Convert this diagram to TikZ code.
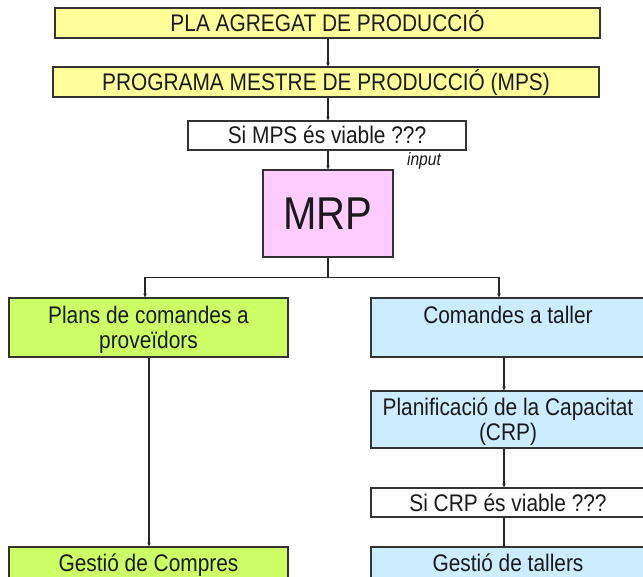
\documentclass[tikz,border=0pt]{standalone}
\usepackage{fontspec}
\setmainfont{Liberation Sans}[FakeStretch=0.87]
\usetikzlibrary{arrows.meta}
\definecolor{yel}{HTML}{FFFF99}
\definecolor{pnk}{HTML}{FFCCFF}
\definecolor{grn}{HTML}{CCFF66}
\definecolor{blu}{HTML}{CCECFF}
\definecolor{ink}{HTML}{1A1A1A}
\begin{document}
\begin{tikzpicture}[x=1pt,y=-1pt,
  box/.style={draw=black!80, line width=1.1pt, inner sep=0pt, align=center,
    font=\fontsize{24}{25}\selectfont, text=ink},
  one/.style={box, text height=17pt, text depth=0pt},
  two/.style={box, text height=42pt, text depth=0pt},
  conn/.style={line width=1.3pt, draw=black!85},
  arr/.style={conn, -{Stealth[length=4pt,width=3.5pt]}},
]
\useasboundingbox (0,0) rectangle (643,577);
\begin{scope}
\clip (0,0) rectangle (643,577);
\node[one, fill=yel, minimum width=545pt, minimum height=30pt] (pla) at (327.5,23) {PLA AGREGAT DE PRODUCCIÓ};
\node[one, fill=yel, minimum width=546pt, minimum height=30pt] (mps) at (326,82) {PROGRAMA MESTRE DE PRODUCCIÓ (MPS)};
\node[one, fill=white, minimum width=278pt, minimum height=29pt] (simps) at (327,135.5) {Si MPS és viable ???};
\node[box, fill=pnk, minimum width=130pt, minimum height=87pt, font=\fontsize{46}{46}\selectfont, text height=33pt, text depth=0pt] (mrp) at (328,213.5) {MRP};
\node[font=\fontsize{18}{20}\selectfont\itshape, text=ink, inner sep=0pt] (inp) at (424,161) {input};

\node[two, fill=grn, minimum width=279pt, minimum height=59pt] (prov) at (148.5,327.5) {Plans de comandes a\\proveïdors};
\node[two, fill=blu, minimum width=274pt, minimum height=59pt] (tall) at (508,327.5) {Comandes a taller\\\strut};
\node[two, fill=blu, minimum width=274pt, minimum height=57pt] (crp) at (508,419.5) {Planificació de la Capacitat\\(CRP)};
\node[one, fill=white, minimum width=274pt, minimum height=29pt] (sicrp) at (508,502.5) {Si CRP és viable ???};
\node[one, fill=grn, minimum width=279pt, minimum height=32pt] (comp) at (148.5,563) {Gestió de Compres};
\node[one, fill=blu, minimum width=274pt, minimum height=32pt] (gtall) at (508,563) {Gestió de tallers};

\draw[arr] ([xshift=0.5pt]pla.south) -- ([xshift=0.5pt]pla.south |- mps.north);
\draw[arr] ([xshift=2pt]mps.south) -- ([xshift=2pt]mps.south |- simps.north);
\draw[arr] ([xshift=1pt]simps.south) -- ([xshift=1pt]simps.south |- mrp.north);
\coordinate (split) at ([yshift=-20pt]mrp.south);
\draw[conn] (mrp.south) -- (split);
\draw[arr] (split) -| ([xshift=-3.5pt]prov.north);
\draw[arr] (split) -| ([xshift=-9pt]tall.north);
\draw[arr] ([xshift=0.5pt]prov.south) -- ([xshift=0.5pt]prov.south |- comp.north);
\draw[arr] ([xshift=-4pt]tall.south) -- ([xshift=-4pt]tall.south |- crp.north);
\draw[arr] ([xshift=-4pt]crp.south) -- ([xshift=-4pt]crp.south |- sicrp.north);
\draw[conn] ([xshift=-4pt]sicrp.south) -- ([xshift=-4pt]sicrp.south |- gtall.north);
\end{scope}
\end{tikzpicture}
\end{document}
